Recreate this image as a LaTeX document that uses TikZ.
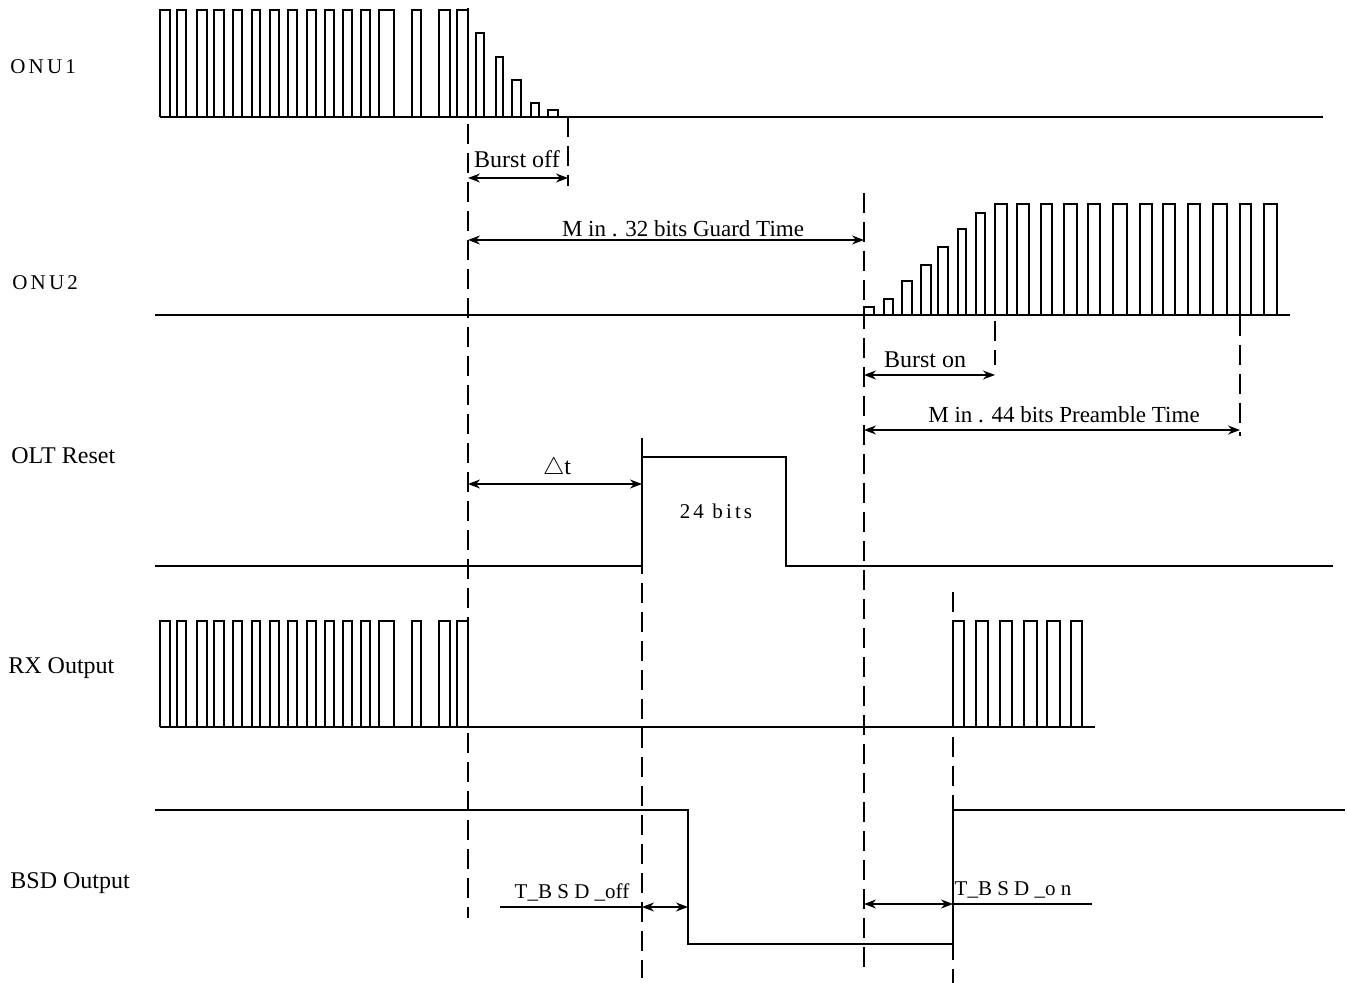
\documentclass[tikz,border=0pt]{standalone}
\usepackage{fontspec}
\setmainfont{Liberation Serif}
\usepackage{tikz}
\usetikzlibrary{arrows.meta}

\begin{document}
\begin{tikzpicture}[x=0.5pt, y=-0.5pt,
  wave/.style={line width=0.7pt},
  guide/.style={line width=1.3pt, dash pattern=on 10pt off 4.5pt},
  dim/.style={{Stealth[length=6pt,width=4.5pt]}-{Stealth[length=6pt,width=4.5pt]}, line width=0.7pt},
  every node/.style={inner sep=0pt, font=\fontsize{12}{14}\selectfont},
  spaced/.style={font=\fontsize{10.5}{12}\selectfont\addfontfeatures{LetterSpace=15}}]
  \useasboundingbox (0,0) rectangle (1348,983);

  % signal names
  \node[spaced, anchor=base west] (onu1) at (10,74) {ONU1};
  \node[spaced, anchor=base west] (onu2) at (12,290) {ONU2};
  \node[anchor=base west] (olt) at (11,464) {OLT Reset};
  \node[anchor=base west] (rx) at (8,673) {RX Output};
  \node[anchor=base west] (bsd) at (10,888) {BSD Output};

  % ONU1
  \draw[wave] (160,117) -- (1323,117);
  \foreach \a/\b in {160/170, 177/186, 197/207, 214/224, 233/242, 252/260, 270/279, 288/297,
    307/316, 325/334, 343/352, 361/370, 379/394, 412/421, 439/450, 457/468}
    \draw[wave] (\a,117) -- (\a,10) -- (\b,10) -- (\b,117);
  \foreach \a/\b/\h in {476/484/33, 496/503/57, 512/521/80, 531/539/103, 548/558/110}
    \draw[wave] (\a,117) -- (\a,\h) -- (\b,\h) -- (\b,117);

  % ONU2
  \draw[wave] (155,315) -- (1290,315);
  \foreach \a/\b/\h in {864/874/307, 884/893/299, 902/912/281, 921/931/265, 938/948/247,
    958/966/229, 976/985/213}
    \draw[wave] (\a,315) -- (\a,\h) -- (\b,\h) -- (\b,315);
  \foreach \a/\b in {995/1007, 1017/1029, 1041/1052, 1064/1077, 1088/1100, 1113/1127,
    1140/1152, 1163/1175, 1188/1200, 1213/1227, 1240/1251, 1264/1277}
    \draw[wave] (\a,315) -- (\a,204) -- (\b,204) -- (\b,315);

  % OLT reset
  \draw[wave] (155,566) -- (642,566) -- (642,457) -- (786,457) -- (786,566) -- (1333,566);

  % RX output
  \draw[wave] (160,727) -- (1095,727);
  \foreach \a/\b in {160/170, 177/186, 197/207, 214/224, 233/242, 252/260, 270/279, 288/297,
    307/316, 325/334, 343/352, 361/370, 379/394, 412/421, 439/450, 457/468,
    953/964, 976/988, 1000/1012, 1024/1037, 1047/1060, 1071/1082}
    \draw[wave] (\a,727) -- (\a,621) -- (\b,621) -- (\b,727);

  % BSD output
  \draw[wave] (155,810) -- (688,810) -- (688,944) -- (953,944) -- (953,810) -- (1345,810);

  % time markers
  \coordinate (m1a) at (468,8);    \coordinate (m1b) at (468,918);
  \coordinate (m2a) at (568,117);  \coordinate (m2b) at (568,186);
  \coordinate (m3a) at (864,193);  \coordinate (m3b) at (864,968);
  \coordinate (m4a) at (995,205);  \coordinate (m4b) at (995,365);
  \coordinate (m5a) at (1240,316); \coordinate (m5b) at (1240,436);
  \coordinate (m6a) at (642,438);  \coordinate (m6b) at (642,978);
  \coordinate (m7a) at (953,592);  \coordinate (m7b) at (953,983);
  \foreach \m in {1,...,7}
    \draw[guide] (m\m a) -- (m\m b);

  % intervals
  \coordinate (offL) at (468,178);  \coordinate (offR) at (568,178);
  \coordinate (grdL) at (468,240);  \coordinate (grdR) at (864,240);
  \coordinate (onL) at (864,375);   \coordinate (onR) at (995,375);
  \coordinate (preL) at (864,430);  \coordinate (preR) at (1240,430);
  \coordinate (dtL) at (468,484);   \coordinate (dtR) at (642,484);
  \coordinate (toffS) at (500,907); \coordinate (toffL) at (642,907); \coordinate (toffR) at (688,907);
  \coordinate (tonL) at (864,904);  \coordinate (tonR) at (953,904);  \coordinate (tonE) at (1092,904);
  \draw[dim] (offL) -- (offR);
  \draw[dim] (grdL) -- (grdR);
  \draw[dim] (onL) -- (onR);
  \draw[dim] (preL) -- (preR);
  \draw[dim] (dtL) -- (dtR);
  \draw[wave] (toffS) -- (toffL);
  \draw[dim] (toffL) -- (toffR);
  \draw[dim] (tonL) -- (tonR);
  \draw[wave] (tonR) -- (tonE);

  % interval labels
  \node[anchor=base] (boff) at (517,168) {Burst off};
  \node[anchor=base, font=\fontsize{11.5}{13}\selectfont] (guard) at (683,237) {M in . 32 bits Guard Time};
  \node[anchor=base] (bon) at (925,368) {Burst on};
  \node[anchor=base, font=\fontsize{11.5}{13}\selectfont] (pre) at (1064,423) {M in . 44 bits Preamble Time};
  \node[anchor=base] (dt) at (557,475) {$\triangle$t};
  \node[spaced, anchor=base] (len) at (716,518) {24 bits};
  \node[anchor=base, font=\fontsize{10.5}{12}\selectfont] (toff) at (572,898) {T\_B S D \_off};
  \node[anchor=base, font=\fontsize{10.5}{12}\selectfont] (ton) at (1013,895) {T\_B S D \_o n};
\end{tikzpicture}
\end{document}
